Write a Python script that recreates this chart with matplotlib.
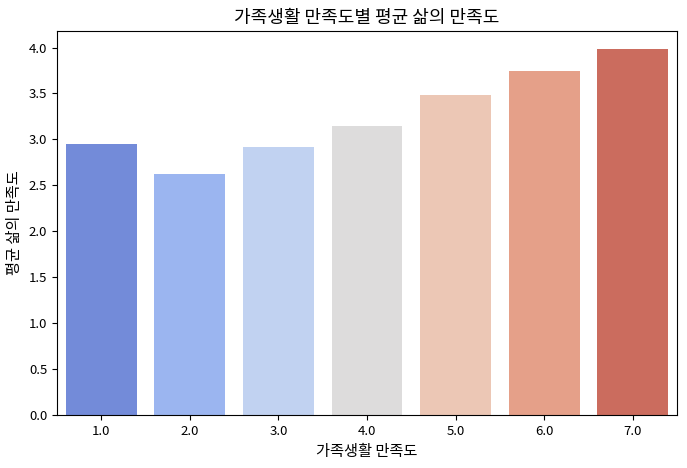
import matplotlib
matplotlib.use("Agg")
import matplotlib.pyplot as plt
import seaborn as sns
import pandas as pd

categories = ["1.0", "2.0", "3.0", "4.0", "5.0", "6.0", "7.0"]
values = [2.95, 2.62, 2.92, 3.15, 3.48, 3.74, 3.98]

plt.rcParams['font.family'] = ['Noto Sans CJK KR', 'DejaVu Sans']
plt.rcParams['axes.unicode_minus'] = False

df = pd.DataFrame({"x": categories, "y": values})
fig = plt.figure(figsize=(6.87, 4.68), dpi=100)
ax = fig.add_axes([57/687, 1 - 415/468, (677-57)/687, (415-31)/468])
sns.barplot(data=df, x="x", y="y", hue="x", palette="coolwarm", legend=False, ax=ax)
ax.set_title("가족생활 만족도별 평균 삶의 만족도", fontsize=13)
ax.set_xlabel("가족생활 만족도", fontsize=11)
ax.set_ylabel("평균 삶의 만족도", fontsize=11)
ax.set_ylim(0, 4.18)
ax.tick_params(labelsize=9.5)
fig.savefig("out.png", dpi=100)
